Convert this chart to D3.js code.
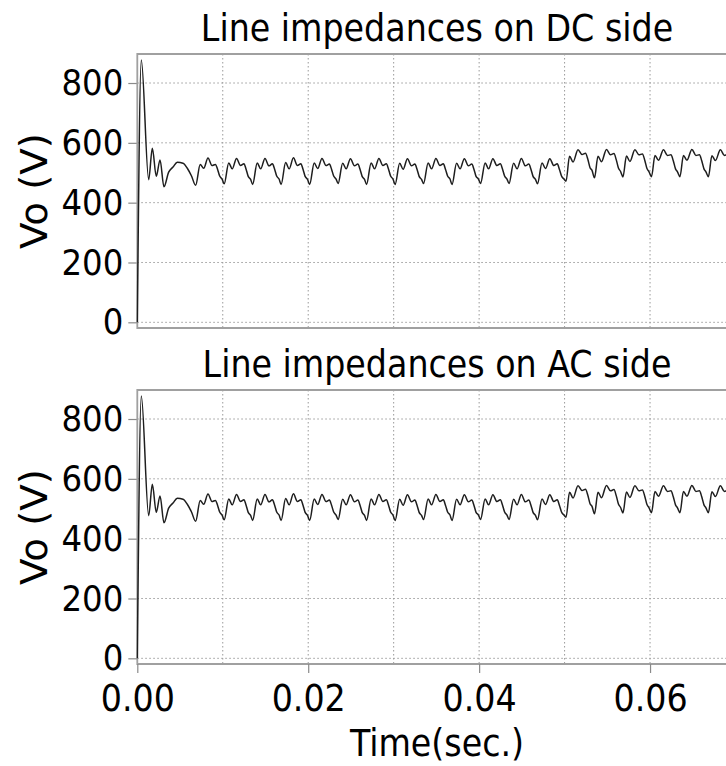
<!DOCTYPE html>
<html>
<head>
<meta charset="utf-8">
<script src="https://cdn.jsdelivr.net/npm/d3@7"></script>
<style>
  html, body { margin: 0; padding: 0; background: #fff; }
  svg { display: block; }
  text { font-family: "DejaVu Sans Condensed", "DejaVu Sans", sans-serif; font-stretch: condensed; fill: #000; }
</style>
</head>
<body>
<svg id="chart" width="726" height="766"></svg>
<script>
// Panel titles (same output voltage trace, two line-impedance placements)
const panelTitles = ["Line impedances on DC side", "Line impedances on AC side"];
const yTickValues = [0, 200, 400, 600, 800];
const xTickValues = [0, 0.02, 0.04, 0.06];
const xGridValues = [0.01, 0.02, 0.03, 0.04, 0.05, 0.06];

// Output voltage Vo (V) versus time (ms)
const timeMs = [
  0.00, 0.47, 1.33, 1.76, 2.22, 2.66, 3.12, 3.67, 4.18, 4.68, 5.35, 5.85, 6.33,
  6.83, 7.36, 7.77, 8.27, 8.74, 9.14, 9.40, 9.64, 9.92,
  10.17, 10.70, 11.11, 11.61, 12.08, 12.48, 12.74, 12.98, 13.26,
  13.50, 14.03, 14.44, 14.94, 15.41, 15.81, 16.07, 16.31, 16.59,
  16.83, 17.36, 17.77, 18.27, 18.74, 19.14, 19.40, 19.64, 19.92,
  20.17, 20.70, 21.11, 21.61, 22.08, 22.48, 22.74, 22.98, 23.26,
  23.50, 24.03, 24.44, 24.94, 25.41, 25.81, 26.07, 26.31, 26.59,
  26.83, 27.36, 27.77, 28.27, 28.74, 29.14, 29.40, 29.64, 29.92,
  30.17, 30.70, 31.11, 31.61, 32.08, 32.48, 32.74, 32.98, 33.26,
  33.50, 34.03, 34.44, 34.94, 35.41, 35.81, 36.07, 36.31, 36.59,
  36.83, 37.36, 37.77, 38.27, 38.74, 39.14, 39.40, 39.64, 39.92,
  40.17, 40.70, 41.11, 41.61, 42.08, 42.48, 42.74, 42.98, 43.26,
  43.50, 44.03, 44.44, 44.94, 45.41, 45.81, 46.07, 46.31, 46.59,
  46.83, 47.36, 47.77, 48.27, 48.74, 49.14, 49.40, 49.64, 49.92,
  50.17, 50.58, 50.99, 51.57, 52.04, 52.45, 52.72, 52.98, 53.21,
  53.50, 53.91, 54.32, 54.90, 55.37, 55.78, 56.05, 56.31, 56.54,
  56.83, 57.24, 57.65, 58.23, 58.70, 59.11, 59.38, 59.64, 59.87,
  60.17, 60.58, 60.99, 61.57, 62.04, 62.45, 62.72, 62.98, 63.21,
  63.50, 63.91, 64.32, 64.90, 65.37, 65.78, 66.05, 66.31, 66.54,
  66.83, 67.24, 67.65, 68.23, 68.70, 69.11, 69.38, 69.64, 69.87,
  70.17
];
const vo = [
  0, 877, 477, 582, 488, 543, 453, 502, 519, 535, 532, 515, 490,
  458, 528, 515, 549, 524, 528, 511, 489, 479,
  463, 533, 513, 548, 524, 530, 511, 488, 478,
  461, 533, 513, 548, 523, 530, 512, 489, 479,
  461, 534, 513, 550, 524, 530, 511, 488, 478,
  461, 533, 514, 548, 524, 529, 511, 489, 479,
  464, 532, 513, 547, 523, 529, 511, 488, 478,
  461, 533, 513, 548, 524, 530, 512, 489, 479,
  461, 532, 512, 547, 523, 529, 511, 488, 478,
  464, 533, 513, 548, 524, 530, 511, 489, 479,
  461, 532, 513, 547, 523, 529, 511, 488, 479,
  464, 533, 513, 547, 524, 530, 512, 489, 479,
  464, 532, 513, 548, 523, 529, 511, 488, 478,
  463, 533, 514, 547, 524, 530, 511, 489, 479,
  472, 555, 536, 577, 561, 565, 545, 517, 508,
  483, 555, 537, 578, 560, 564, 543, 515, 505,
  486, 556, 538, 577, 560, 563, 542, 514, 504,
  487, 558, 542, 577, 558, 560, 540, 513, 503,
  487, 558, 542, 578, 558, 560, 540, 513, 503,
  487, 557, 541, 577, 558, 561, 541, 514, 504,
  487
];

const W = 726, H = 766;
const plotLeft = 137.3, plotRightAt007 = 735.5;
const panelTops = [54, 390];
const panelHeight = 274;
const fontStack = '"DejaVu Sans Condensed", "DejaVu Sans", sans-serif';

const svg = d3.select("#chart");
const points = timeMs.map((t, i) => ({ t: t / 1000, v: vo[i] }));

const x = d3.scaleLinear().domain([0, 0.07]).range([plotLeft, plotRightAt007]);

panelTitles.forEach((title, p) => {
  const top = panelTops[p];
  const bottom = top + panelHeight;
  const y = d3.scaleLinear().domain([-19, 897]).range([bottom, top]);
  const g = svg.append("g");

  // title
  g.append("text")
    .attr("x", 437).attr("y", top - 13)
    .attr("text-anchor", "middle")
    .style("font-size", "37px")
    .text(title);

  // dotted grid
  g.selectAll(".hgrid").data(yTickValues).join("line")
    .attr("x1", plotLeft).attr("x2", W)
    .attr("y1", d => y(d)).attr("y2", d => y(d))
    .attr("stroke", "#9a9a9a").attr("stroke-width", 1)
    .attr("stroke-dasharray", "1.5,2.5");
  g.selectAll(".vgrid").data(xGridValues).join("line")
    .attr("x1", d => x(d)).attr("x2", d => x(d))
    .attr("y1", top).attr("y2", bottom)
    .attr("stroke", "#9a9a9a").attr("stroke-width", 1)
    .attr("stroke-dasharray", "1.5,2.5");

  // y axis ticks and labels
  const yAxis = d3.axisLeft(y).tickValues(yTickValues).tickSize(9).tickPadding(5).tickFormat(d3.format("d"));
  const ya = g.append("g").attr("transform", `translate(${plotLeft},0)`).call(yAxis);
  ya.select(".domain").remove();
  ya.selectAll(".tick line").attr("stroke", "#8a8a8a").attr("stroke-width", 1.2);
  ya.selectAll(".tick text").style("font-size", "36px")
    .style("font-family", fontStack)
    .attr("fill", "#000");

  // y label
  g.append("text")
    .attr("transform", `translate(47,${(top + bottom) / 2}) rotate(-90)`)
    .attr("text-anchor", "middle")
    .attr("textLength", 116)
    .attr("lengthAdjust", "spacingAndGlyphs")
    .style("font-size", "37px")
    .text("Vo (V)");

  // frame
  g.append("path")
    .attr("d", `M${W + 5},${top}H${plotLeft}V${bottom}H${W + 5}`)
    .attr("fill", "none").attr("stroke", "#a0a0a0").attr("stroke-width", 1.8);

  // waveform
  const clipId = "clip" + p;
  svg.append("clipPath").attr("id", clipId).append("rect")
    .attr("x", plotLeft - 1).attr("y", top).attr("width", W).attr("height", panelHeight);
  const line = d3.line().x(d => x(d.t)).y(d => y(d.v)).curve(d3.curveMonotoneX);
  g.append("path").datum(points)
    .attr("clip-path", `url(#${clipId})`)
    .attr("d", line)
    .attr("fill", "none").attr("stroke", "#1e1e1e").attr("stroke-width", 1.5)
    .attr("stroke-linejoin", "round");

  // x axis only under the lower panel
  if (p === panelTitles.length - 1) {
    const xAxis = d3.axisBottom(x).tickValues(xTickValues).tickSize(9).tickPadding(12).tickFormat(d3.format(".2f"));
    const xa = g.append("g").attr("transform", `translate(0,${bottom})`).call(xAxis);
    xa.select(".domain").remove();
    xa.selectAll(".tick line").attr("stroke", "#8a8a8a").attr("stroke-width", 1.2);
    xa.selectAll(".tick text").style("font-size", "37px")
      .style("font-family", fontStack)
      .attr("fill", "#000");
    g.append("text")
      .attr("x", 437).attr("y", 756)
      .attr("text-anchor", "middle")
      .style("font-size", "37px")
      .text("Time(sec.)");
  }
});
</script>
</body>
</html>
